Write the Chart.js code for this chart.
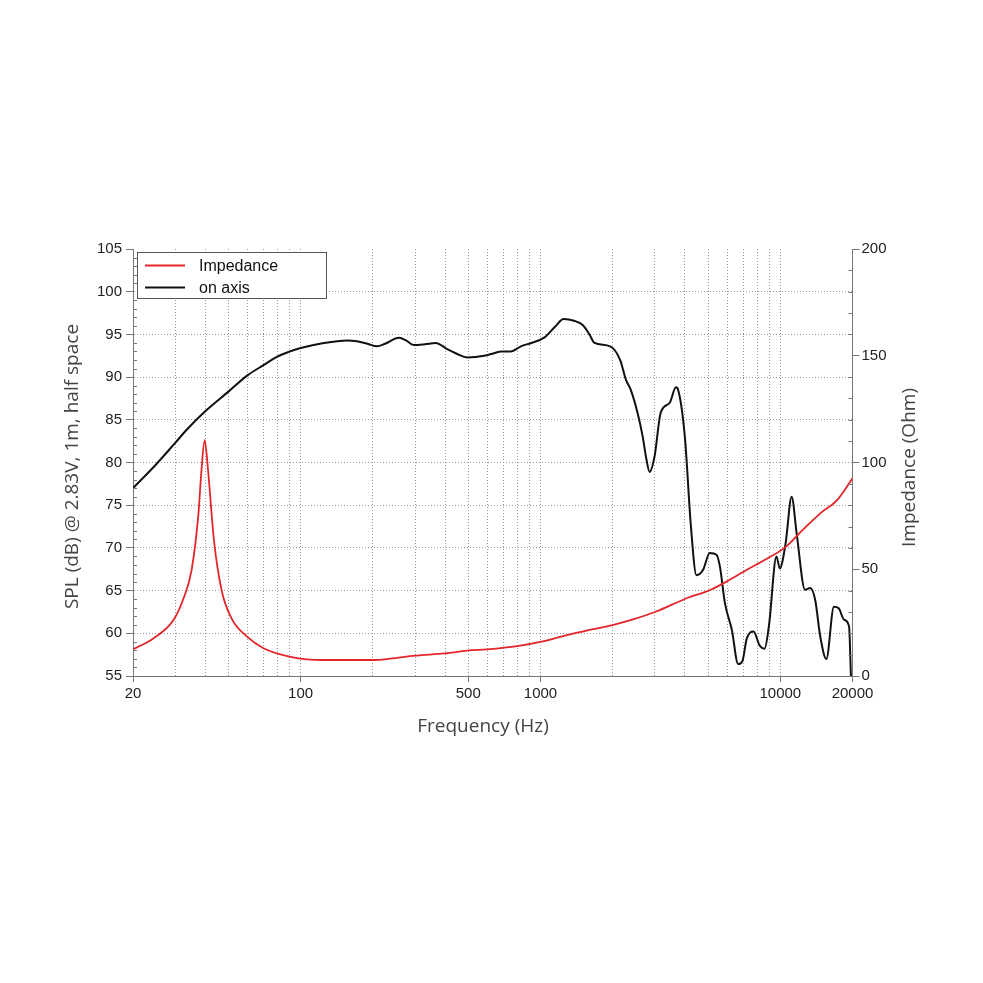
<!DOCTYPE html>
<html>
<head>
<meta charset="utf-8">
<script src="https://cdn.jsdelivr.net/npm/chart.js@4.4.1/dist/chart.umd.min.js"></script>
<style>
  html, body { margin: 0; padding: 0; background: #ffffff; }
  #wrap { width: 983px; height: 983px; }
</style>
</head>
<body>
<div id="wrap"><canvas id="c" width="983" height="983"></canvas></div>
<script>
// ---- Data ----
const splFreq = [20, 25, 30, 33.4, 40, 50, 60, 70, 80, 90, 100, 125, 156, 172, 190, 208, 225, 257, 275, 296, 330, 366, 410, 450, 496, 583, 640, 687, 752, 829, 915, 1040, 1150, 1250, 1380, 1500, 1600, 1680, 1950, 2150, 2270, 2380, 2540, 2670, 2760, 2850, 2990, 3170, 3460, 3670, 3750, 4000, 4240, 4470, 4760, 5080, 5420, 5600, 5880, 6280, 6670, 6940, 7250, 7740, 8190, 8600, 8960, 9640, 9950, 10520, 11150, 11700, 12680, 13320, 13980, 14680, 15560, 16730, 17550, 18430, 19350, 19700];
const splValues = [77.0, 79.8, 82.3, 83.8, 86.0, 88.3, 90.2, 91.4, 92.4, 93.0, 93.4, 94.0, 94.3, 94.2, 93.9, 93.6, 93.9, 94.6, 94.3, 93.75, 93.85, 94.0, 93.25, 92.7, 92.3, 92.5, 92.8, 93.0, 93.0, 93.6, 94.0, 94.65, 95.9, 96.8, 96.6, 96.1, 95.0, 94.0, 93.6, 92.0, 89.7, 88.5, 85.8, 83.0, 80.5, 78.9, 80.7, 85.8, 87.0, 88.8, 88.5, 83.0, 72.5, 66.8, 67.4, 69.4, 69.2, 67.8, 63.5, 60.4, 56.4, 56.7, 59.4, 60.2, 58.6, 58.2, 60.8, 69.0, 67.6, 70.5, 76.0, 71.7, 65.1, 65.3, 63.9, 59.6, 57.0, 63.1, 62.9, 61.6, 60.8, 55.0];

const impFreq = [20, 24.3, 29.5, 32.5, 35.1, 37.5, 38.6, 39.8, 41.1, 43.5, 46.8, 51.5, 59.8, 70, 90.7, 125, 202, 236, 300, 400, 495, 600, 800, 1010, 1290, 1660, 2050, 2450, 3020, 4070, 5100, 6030, 7320, 8600, 10570, 12400, 14680, 17250, 20000];
const impValues = [12.5, 17.6, 26.2, 36.4, 49.6, 76.2, 96.5, 110.5, 96.5, 63.7, 40.3, 27.0, 18.4, 13.0, 9.0, 7.5, 7.5, 8.1, 9.5, 10.6, 11.9, 12.5, 14.0, 16.1, 19.2, 21.9, 24.2, 26.6, 30.1, 36.4, 40.3, 44.5, 50.0, 54.3, 60.6, 68.4, 76.2, 82.4, 92.6];

const gridFreqs = [20, 30, 40, 50, 60, 70, 80, 90, 100, 200, 300, 400, 500, 600, 700, 800, 900, 1000, 2000, 3000, 4000, 5000, 6000, 7000, 8000, 9000, 10000, 20000];
const freqLabels = [20, 100, 500, 1000, 10000, 20000];
const splTicks = [55, 60, 65, 70, 75, 80, 85, 90, 95, 100, 105];
const impTicks = [0, 50, 100, 150, 200];

const seriesNames = ['Impedance', 'on axis'];
const seriesColors = ['#e3262a', '#111111'];
const axisTitles = { x: 'Frequency (Hz)', yL: 'SPL (dB) @ 2.83V, 1m, half space', yR: 'Impedance (Ohm)' };

const tickFont = { family: '"Liberation Sans", Arial, sans-serif', size: 15 };
const titleFontCss = '19px "Open Sans", sans-serif';
const gridDash = [1, 2];
const gridColor = '#9a9a9a';
const axisColor = '#777777';

const minorTicks = {
  id: 'minorTicks',
  afterDraw(chart) {
    const ctx = chart.ctx, ca = chart.chartArea;
    const yl = chart.scales.yL, yr = chart.scales.yR;
    ctx.save();
    ctx.strokeStyle = axisColor;
    ctx.lineWidth = 1;
    ctx.beginPath();
    for (let v = 55; v <= 105; v += 1) {
      if (v % 5 === 0) continue;
      const y = Math.round(yl.getPixelForValue(v)) + 0.5;
      ctx.moveTo(ca.left, y); ctx.lineTo(ca.left + 4, y);
    }
    for (let v = 0; v <= 200; v += 10) {
      if (v % 50 === 0) continue;
      const y = Math.round(yr.getPixelForValue(v)) + 0.5;
      ctx.moveTo(ca.right, y); ctx.lineTo(ca.right - 4, y);
    }
    ctx.stroke();
    ctx.restore();
  }
};

const axisTitlePlugin = {
  id: 'axisTitlePlugin',
  afterDraw(chart) {
    const ctx = chart.ctx, ca = chart.chartArea;
    const cy = (ca.top + ca.bottom) / 2;
    ctx.save();
    ctx.font = titleFontCss;
    ctx.fillStyle = '#444444';
    ctx.textAlign = 'center';
    ctx.textBaseline = 'middle';
    ctx.fillText(axisTitles.x, ca.left + 350, ca.bottom + 51);
    ctx.save();
    ctx.translate(ca.left - 60, cy + 4);
    ctx.rotate(-Math.PI / 2);
    ctx.fillText(axisTitles.yL, 0, 0);
    ctx.restore();
    ctx.save();
    ctx.translate(ca.right + 57, cy + 5);
    ctx.rotate(-Math.PI / 2);
    ctx.fillText(axisTitles.yR, 0, 0);
    ctx.restore();
    ctx.restore();
  }
};

const boxLegend = {
  id: 'boxLegend',
  afterDraw(chart) {
    const ctx = chart.ctx, ca = chart.chartArea;
    const x0 = ca.left + 4, y0 = ca.top + 3, w = 189, h = 46;
    ctx.save();
    ctx.fillStyle = '#ffffff';
    ctx.fillRect(x0, y0, w, h);
    ctx.strokeStyle = '#555555';
    ctx.lineWidth = 1;
    ctx.strokeRect(Math.round(x0) + 0.5, Math.round(y0) + 0.5, w, h);
    ctx.font = '16px "Liberation Sans", Arial, sans-serif';
    ctx.textBaseline = 'middle';
    ctx.textAlign = 'left';
    chart.data.datasets.forEach((ds, i) => {
      const y = y0 + 13.5 + i * 22;
      ctx.strokeStyle = ds.borderColor;
      ctx.lineWidth = 2;
      ctx.beginPath();
      ctx.moveTo(x0 + 8, y); ctx.lineTo(x0 + 48, y);
      ctx.stroke();
      ctx.fillStyle = '#111111';
      ctx.fillText(ds.label, x0 + 62, y + 1);
    });
    ctx.restore();
  }
};

const ctx = document.getElementById('c').getContext('2d');
new Chart(ctx, {
  type: 'line',
  data: {
    datasets: [
      {
        label: seriesNames[0],
        data: impFreq.map((f, i) => ({ x: f, y: impValues[i] })),
        yAxisID: 'yR',
        borderColor: seriesColors[0],
        borderWidth: 1.8,
        pointRadius: 0,
        cubicInterpolationMode: 'monotone',
        fill: false
      },
      {
        label: seriesNames[1],
        data: splFreq.map((f, i) => ({ x: f, y: splValues[i] })),
        yAxisID: 'yL',
        borderColor: seriesColors[1],
        borderWidth: 2,
        pointRadius: 0,
        cubicInterpolationMode: 'monotone',
        fill: false
      }
    ]
  },
  options: {
    responsive: false,
    devicePixelRatio: 1,
    animation: false,
    layout: { padding: { left: 0, top: 249, right: 60.5, bottom: 227 } },
    plugins: { legend: { display: false }, tooltip: { enabled: false } },
    scales: {
      x: {
        type: 'logarithmic',
        position: 'bottom',
        min: 20, max: 20000,
        afterBuildTicks: (s) => { s.ticks = gridFreqs.map(v => ({ value: v })); },
        afterFit: (s) => { s.height = 80; },
        ticks: {
          autoSkip: false, maxRotation: 0, minRotation: 0,
          padding: 3,
          color: '#222222',
          font: tickFont,
          callback: (v) => freqLabels.includes(v) ? String(v) : ''
        },
        grid: {
          color: (c) => (c.tick && (c.tick.value === 20 || c.tick.value === 20000)) ? 'rgba(0,0,0,0)' : gridColor,
          tickLength: 6,
          tickColor: (c) => (c.tick && freqLabels.includes(c.tick.value)) ? axisColor : 'rgba(0,0,0,0)',
          tickBorderDash: [],
          lineWidth: 1
        },
        border: { display: true, color: axisColor, width: 1, dash: gridDash }
      },
      yL: {
        type: 'linear',
        position: 'left',
        min: 55, max: 105,
        afterBuildTicks: (s) => { s.ticks = splTicks.map(v => ({ value: v })); },
        afterFit: (s) => { s.width = 133; },
        ticks: { padding: 4, color: '#222222', font: tickFont },
        grid: {
          color: (c) => (c.tick && (c.tick.value === 105 || c.tick.value === 55)) ? 'rgba(0,0,0,0)' : gridColor,
          tickLength: 7,
          tickColor: axisColor,
          tickBorderDash: [],
          lineWidth: 1
        },
        border: { display: true, color: axisColor, width: 1, dash: gridDash }
      },
      yR: {
        type: 'linear',
        position: 'right',
        min: 0, max: 200,
        afterBuildTicks: (s) => { s.ticks = impTicks.map(v => ({ value: v })); },
        afterFit: (s) => { s.width = 70; },
        ticks: { padding: 2, color: '#222222', font: tickFont },
        grid: {
          drawOnChartArea: false,
          tickLength: 7,
          tickColor: axisColor,
          tickBorderDash: [],
          lineWidth: 1
        },
        border: { display: true, color: axisColor, width: 1 }
      }
    }
  },
  plugins: [minorTicks, axisTitlePlugin, boxLegend]
});
</script>
</body>
</html>
